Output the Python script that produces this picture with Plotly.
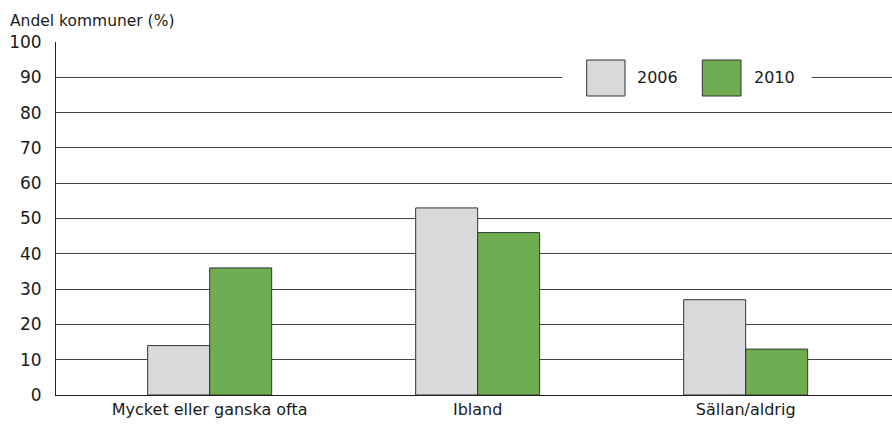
import plotly.graph_objects as go

categories = ["Mycket eller ganska ofta", "Ibland", "Sällan/aldrig"]
series_names = ["2006", "2010"]
values_2006 = [14, 53, 27]
values_2010 = [36, 46, 13]
y_ticks = [0, 10, 20, 30, 40, 50, 60, 70, 80, 90, 100]

colors = {"2006": "#d8d9db", "2010": "#70ad52"}
FONT = "DejaVu Sans"

fig = go.Figure()
for name, vals in zip(series_names, [values_2006, values_2010]):
    fig.add_trace(go.Bar(
        name=name, x=categories, y=vals,
        marker=dict(color=colors[name], line=dict(color="#333333", width=1)),
        showlegend=False,
    ))

# custom legend (large swatches sitting on the 90 gridline)
fig.add_shape(type="rect", xref="paper", yref="y", x0=0.6057, x1=0.9039, y0=86, y1=94,
              fillcolor="white", line=dict(width=0), layer="above")
legend_items = [("2006", 0.6348, 0.6806, 0.7200), ("2010", 0.7731, 0.8194, 0.8600)]
for name, sx0, sx1, tx in legend_items:
    fig.add_shape(type="rect", xref="paper", yref="y", x0=sx0, x1=sx1, y0=84.7, y1=94.9,
                  fillcolor=colors[name], line=dict(color="#333333", width=1), layer="above")
    fig.add_annotation(xref="paper", yref="y", x=tx, y=90, text=name, showarrow=False,
                       xanchor="center", yanchor="middle",
                       font=dict(family=FONT, size=16, color="#1a1a1a"))

fig.add_annotation(xref="paper", yref="paper", x=-0.058, y=1.0, yshift=21,
                   text="Andel kommuner (%)", showarrow=False,
                   xanchor="left", yanchor="middle",
                   font=dict(family=FONT, size=15.5, color="#1a1a1a"))

fig.update_layout(
    width=892, height=428,
    margin=dict(l=56, r=0, t=42, b=33),
    paper_bgcolor="white", plot_bgcolor="white",
    barmode="group", bargap=0.5373, bargroupgap=0,
    font=dict(family=FONT, size=16, color="#1a1a1a"),
    xaxis=dict(range=[-0.5734, 2.546], showgrid=False, showline=True, linecolor="#222222",
               linewidth=1, ticks="", tickfont=dict(size=16), zeroline=False),
    yaxis=dict(range=[0, 100], tickvals=y_ticks, showgrid=True, gridcolor="#444444",
               gridwidth=1, showline=True, linecolor="#222222", linewidth=1,
               ticks="", ticklabelstandoff=10, zeroline=False, tickfont=dict(size=17)),
)

fig.write_html("out.html", post_script="document.body.style.margin='0';",
               config={"displayModeBar": False})
